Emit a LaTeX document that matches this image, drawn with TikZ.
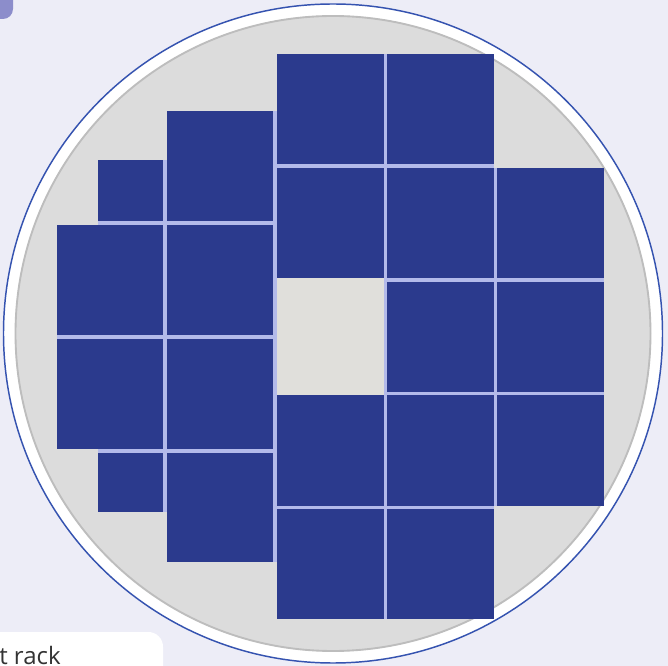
\documentclass[tikz,border=0pt]{standalone}
\usepackage{fontspec}
\newfontfamily\labelfont{Open Sans}
\definecolor{bg}{HTML}{EDEDF7}
\definecolor{badge}{HTML}{8C8DCB}
\definecolor{ringblue}{HTML}{3553B0}
\definecolor{diskgray}{HTML}{DCDCDC}
\definecolor{shadowgray}{HTML}{BDBDBD}
\definecolor{emptycell}{HTML}{E0DFDB}
\definecolor{tileblue}{HTML}{2B3A8D}
\definecolor{gapblue}{HTML}{B3BAEA}
\definecolor{textgray}{HTML}{333333}
\tikzset{
  tile/.style={fill=tileblue},
  gapfill/.style={fill=gapblue},
}
\begin{document}
\begin{tikzpicture}[x=0.75pt,y=-0.75pt]
\useasboundingbox (0,0) rectangle (668,666);
\clip (0,0) rectangle (668,666);
\fill[bg] (0,0) rectangle (668,666);
% badge top-left
\fill[badge,rounded corners=7.5pt] (-20,-20) rectangle (13,19);
% disk with white ring
\fill[white] (333,333.5) circle (329.5);
\draw[ringblue,line width=1.1pt] (333,333.5) circle (329.5);
\fill[diskgray] (333,333.5) circle (318);
\draw[shadowgray,line width=1.4pt] (333,333.5) circle (317.5);
% empty cell
\fill[emptycell] (277,278) rectangle (387,395);
% gap backings
\fill[gapfill] (167,111) rectangle (273,562);
\fill[gapfill] (57,225) rectangle (163,449);
\fill[gapfill] (98,160) rectangle (167,225);
\fill[gapfill] (98,449) rectangle (167,512);
\fill[gapfill] (163,225) rectangle (167,449);
\fill[gapfill] (273,111) rectangle (277,562);
\fill[gapfill] (277,54) rectangle (384,278);
\fill[gapfill] (277,395) rectangle (384,619);
\fill[gapfill] (387,54) rectangle (494,619);
\fill[gapfill] (497,168) rectangle (604,506);
\fill[gapfill] (384,54) rectangle (387,619);
\fill[gapfill] (494,168) rectangle (497,506);
% left small tiles
\fill[tile] (98,160) rectangle (163,221);
\fill[tile] (98,453) rectangle (163,512);
% column A
\fill[tile] (57,225) rectangle (163,335);
\fill[tile] (57,339) rectangle (163,449);
% column B
\fill[tile] (167,111) rectangle (273,221);
\fill[tile] (167,225) rectangle (273,335);
\fill[tile] (167,339) rectangle (273,449);
\fill[tile] (167,453) rectangle (273,562);
% column C
\fill[tile] (277,54) rectangle (384,164);
\fill[tile] (277,168) rectangle (384,278);
\fill[tile] (277,395) rectangle (384,506);
\fill[tile] (277,509) rectangle (384,619);
% column D
\fill[tile] (387,54) rectangle (494,164);
\fill[tile] (387,168) rectangle (494,278);
\fill[tile] (387,282) rectangle (494,392);
\fill[tile] (387,395) rectangle (494,506);
\fill[tile] (387,509) rectangle (494,619);
% column E
\fill[tile] (497,168) rectangle (604,278);
\fill[tile] (497,282) rectangle (604,392);
\fill[tile] (497,395) rectangle (604,506);
% caption box bottom-left
\fill[white,rounded corners=11pt] (-30,632) rectangle (163,700);
\node[anchor=base west,inner sep=0pt,text=textgray,font=\labelfont\fontsize{18pt}{20pt}\selectfont] (caption) at (-1,664) {t rack};
\end{tikzpicture}
\end{document}
